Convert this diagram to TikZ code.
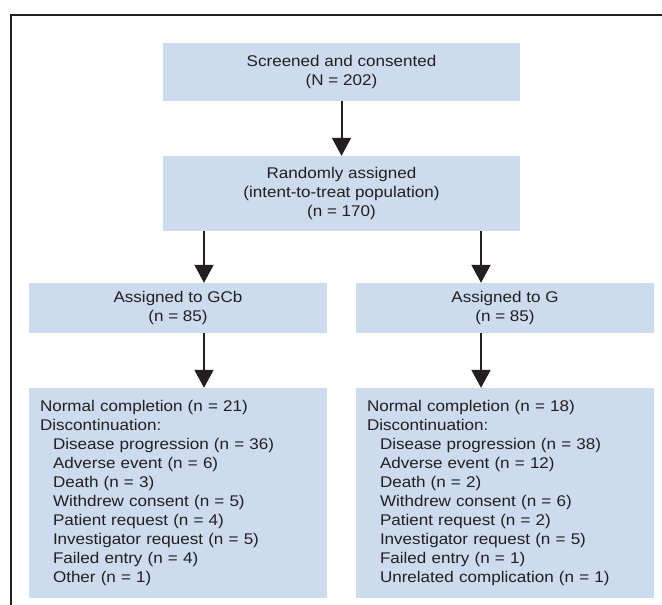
\documentclass[tikz,border=0pt]{standalone}
\usepackage{fontspec}
\setmainfont[FakeStretch=1.1]{Liberation Sans}
\usetikzlibrary{arrows.meta}
\definecolor{boxblue}{RGB}{204,219,237}
\definecolor{ink}{RGB}{35,31,32}
\begin{document}
\begin{tikzpicture}[x=1pt,y=-1pt,
  box/.style={fill=boxblue, draw=none, inner sep=0pt, text=ink,
    font=\fontsize{15.5}{19}\selectfont, align=center},
  listbox/.style={box, align=left, text width=276pt, inner xsep=11pt},
  arr/.style={draw=ink, line width=2pt, -{Triangle[width=19pt,length=18pt]}}]
\useasboundingbox (0,0) rectangle (662,605);
\draw[ink, line width=1.2pt] (11,605) -- (11,15) -- (662,15);
\node[box, minimum width=357pt, minimum height=58pt] (scr) at (341.5,72) {Screened and consented\\(N = 202)};
\node[box, minimum width=357pt, minimum height=75pt] (rand) at (341.5,193.5) {Randomly assigned\\(intent-to-treat population)\\(n = 170)};
\node[box, minimum width=298pt, minimum height=50pt] (gcb) at (178,308) {Assigned to GCb\\(n = 85)};
\node[box, minimum width=298pt, minimum height=50pt] (g) at (505,308) {Assigned to G\\(n = 85)};
\node[listbox, minimum height=210pt] (outl) at (178,493) {Normal completion (n = 21)\\Discontinuation:\\
\hspace*{13pt}Disease progression (n = 36)\\
\hspace*{13pt}Adverse event (n = 6)\\
\hspace*{13pt}Death (n = 3)\\
\hspace*{13pt}Withdrew consent (n = 5)\\
\hspace*{13pt}Patient request (n = 4)\\
\hspace*{13pt}Investigator request (n = 5)\\
\hspace*{13pt}Failed entry (n = 4)\\
\hspace*{13pt}Other (n = 1)};
\node[listbox, minimum height=210pt] (outr) at (505,493) {Normal completion (n = 18)\\Discontinuation:\\
\hspace*{13pt}Disease progression (n = 38)\\
\hspace*{13pt}Adverse event (n = 12)\\
\hspace*{13pt}Death (n = 2)\\
\hspace*{13pt}Withdrew consent (n = 6)\\
\hspace*{13pt}Patient request (n = 2)\\
\hspace*{13pt}Investigator request (n = 5)\\
\hspace*{13pt}Failed entry (n = 1)\\
\hspace*{13pt}Unrelated complication (n = 1)};
\coordinate (aL) at (204,0);
\coordinate (aR) at (481,0);
\draw[arr] (scr.south) -- (rand.north);
\draw[arr] (rand.south -| aL) -- (gcb.north -| aL);
\draw[arr] (rand.south -| aR) -- (g.north -| aR);
\draw[arr] (gcb.south -| aL) -- (outl.north -| aL);
\draw[arr] (g.south -| aR) -- (outr.north -| aR);
\end{tikzpicture}
\end{document}
